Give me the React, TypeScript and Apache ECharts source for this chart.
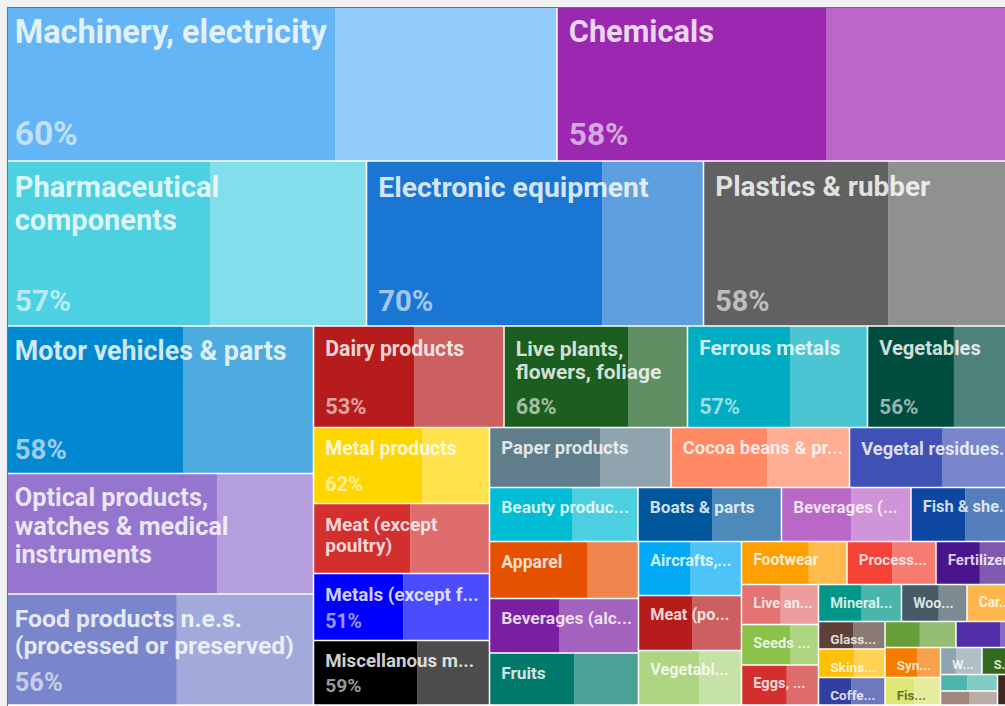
import React, { useEffect, useRef } from "react";
import * as echarts from "echarts";

// Category labels as they appear in the tiles (line breaks and ellipses as shown)
const categories: string[] = [
  "Machinery, electricity",
  "Chemicals",
  "Pharmaceutical\ncomponents",
  "Electronic equipment",
  "Plastics & rubber",
  "Motor vehicles & parts",
  "Optical products,\nwatches & medical\ninstruments",
  "Food products n.e.s.\n(processed or preserved)",
  "Dairy products",
  "Live plants,\nflowers, foliage",
  "Ferrous metals",
  "Vegetables",
  "Metal products",
  "Meat (except\npoultry)",
  "Metals (except f...",
  "Miscellanous m...",
  "Paper products",
  "Cocoa beans & pr...",
  "Vegetal residues...",
  "Beauty produc...",
  "Boats & parts",
  "Beverages (...",
  "Fish & she...",
  "Apparel",
  "Beverages (alc...",
  "Fruits",
  "Aircrafts,...",
  "Meat (po...",
  "Vegetabl...",
  "Footwear",
  "Process...",
  "Fertilizers",
  "Live an...",
  "Seeds ...",
  "Eggs, ...",
  "Mineral...",
  "Woo...",
  "Car...",
  "Glass...",
  "Skins...",
  "Coffe...",
  "",
  "",
  "Syn...",
  "Fis...",
  "W...",
  "S...",
  "",
  "",
  ""
];

// Tile sizes (relative trade values, read from the tile areas)
const values: number[] = [
  86978, 73005, 59978, 55605, 52553, 45799, 37415, 34466,
  19336, 18625, 18270, 15682, 13376, 12320, 11792, 11352,
  10890, 10710, 10350, 8019, 7749, 6993, 5994,
  8493, 8121, 7748, 5562, 5665, 5614,
  4537, 3827, 3698, 3080, 3119, 3080,
  3071, 2424, 2035, 1829, 1895, 1829,
  1846, 1716, 1665, 1526, 1121, 1080, 941, 798, 747
];

// Share (%) shown by the darker part of every tile
const shares: number[] = [
  60, 58, 57, 70, 58, 58, 69, 56,
  53, 68, 57, 56, 62, 55, 51, 59,
  61, 54, 54, 56, 52, 54, 49,
  66, 47, 57, 50, 52, 59,
  64, 51, 51, 51, 64, 59,
  52, 57, 80, 52, 54, 49,
  49, 68, 58, 53, 38, 70, 47, 51, 60
];

// Tile colours (style)
const tileColors: string[] = [
  "#64B5F6", "#9C27B0", "#4DD0E1", "#1976D2", "#616161", "#0288D1", "#9575CD", "#7986CB",
  "#B71C1C", "#1B5E20", "#00ACC1", "#004D40", "#FFD600", "#D32F2F", "#0000FF", "#000000",
  "#607D8B", "#FF8A65", "#3F51B5", "#00BCD4", "#01579B", "#BA68C8", "#0D47A1",
  "#E65100", "#7B1FA2", "#00796B", "#03A9F4", "#B71C1C", "#AED581",
  "#FFA000", "#F44336", "#4A148C", "#E57373", "#8BC34A", "#D32F2F",
  "#009688", "#455A64", "#FFB74D", "#5D4037", "#FFC107", "#303F9F",
  "#689F38", "#512DA8", "#F57C00", "#DCE775", "#90A4AE", "#33691E", "#4DB6AC", "#A1887F", "#3E2723"
];

// Strip plan: each strip fills the top ("row") or the left ("col")
// of the space that is still free, and its items share the strip by value.
const strips: [string, number[]][] = [
  ["row", [0, 1]],
  ["row", [2, 3, 4]],
  ["col", [5, 6, 7]],
  ["row", [8, 9, 10, 11]],
  ["col", [12, 13, 14, 15]],
  ["row", [16, 17, 18]],
  ["row", [19, 20, 21, 22]],
  ["col", [23, 24, 25]],
  ["col", [26, 27, 28]],
  ["row", [29, 30, 31]],
  ["col", [32, 33, 34]],
  ["row", [35, 36, 37]],
  ["col", [38, 39, 40]],
  ["row", [41, 42]],
  ["col", [43, 44]],
  ["row", [45, 46]],
  ["col", [47, 48]],
  ["col", [49]]
];

function layoutCells(): number[][] {
  let remaining = values.reduce((a, b) => a + b, 0);
  let x0 = 0, y0 = 0;
  const x1 = 1, y1 = 1;
  const cells: number[][] = [];
  strips.forEach(([dir, items]) => {
    const sum = items.reduce((a, i) => a + values[i], 0);
    const frac = remaining > 0 ? Math.min(1, sum / remaining) : 1;
    if (dir === "row") {
      const yb = y0 + (y1 - y0) * frac;
      let cx = x0;
      items.forEach((i) => {
        const nx = cx + ((x1 - x0) * values[i]) / sum;
        cells.push([cx, y0, nx, yb, values[i], shares[i], i]);
        cx = nx;
      });
      y0 = yb;
    } else {
      const xb = x0 + (x1 - x0) * frac;
      let cy = y0;
      items.forEach((i) => {
        const ny = cy + ((y1 - y0) * values[i]) / sum;
        cells.push([x0, cy, xb, ny, values[i], shares[i], i]);
        cy = ny;
      });
      x0 = xb;
    }
    remaining -= sum;
  });
  return cells;
}

function luminance(hex: string): number {
  const c = [1, 3, 5].map((k) => parseInt(hex.slice(k, k + 2), 16) / 255);
  const lin = c.map((v) => (v <= 0.03928 ? v / 12.92 : Math.pow((v + 0.055) / 1.055, 2.4)));
  return 0.2126 * lin[0] + 0.7152 * lin[1] + 0.0722 * lin[2];
}

export default function App() {
  const ref = useRef<HTMLDivElement>(null);

  useEffect(() => {
    document.body.style.background = "#f2f2f2";
    document.body.style.overflow = "hidden";
    document.documentElement.style.overflow = "hidden";
    if (!ref.current) return;
    const chart = echarts.init(ref.current, null, { renderer: "svg" });
    const cells = layoutCells();

    const renderItem = (params: any, api: any) => {
      const idx = api.value(6);
      const a = api.coord([api.value(0), api.value(1)]);
      const b = api.coord([api.value(2), api.value(3)]);
      const cx = Math.min(a[0], b[0]);
      const cy = Math.min(a[1], b[1]);
      const cw = Math.abs(b[0] - a[0]);
      const ch = Math.abs(b[1] - a[1]);
      const inset = 0.75;
      const L = cx + inset, T = cy + inset;
      const w = Math.max(cw - 2 * inset, 0), h = Math.max(ch - 2 * inset, 0);
      const share = api.value(5);
      const dw = (w * share) / 100;
      const color = tileColors[idx];
      const light = luminance(color) > 0.72;
      const titleFill = light ? "rgba(0,0,0,0.55)" : "rgba(255,255,255,0.82)";
      const pctFill = light ? "rgba(0,0,0,0.45)" : "rgba(255,255,255,0.6)";
      const s = Math.sqrt(cw * ch);
      const fs = 10 + 0.085 * s - 0.00003 * s * s;
      const name = categories[idx];
      const lines = name ? name.split("\n").length : 0;
      const children: any[] = [
        { type: "rect", shape: { x: L, y: T, width: dw, height: h }, style: { fill: color } },
        { type: "rect", shape: { x: L + dw, y: T, width: w - dw, height: h }, style: { fill: color, opacity: 0.7 } }
      ];
      if (name) {
        children.push({
          type: "text",
          style: {
            text: name,
            x: L + 11,
            y: T + 9.5,
            fill: titleFill,
            fontFamily: "Roboto",
            fontWeight: "bold",
            fontSize: fs,
            lineHeight: fs * 1.12,
            align: "left",
            verticalAlign: "top"
          }
        });
        if (ch >= (lines + 1) * fs * 1.15 + 19) {
          const pfs = fs * 1.03;
          children.push({
            type: "text",
            style: {
              text: share + "%",
              x: L + 11,
              y: T + h - 7,
              fill: pctFill,
              fontFamily: "Roboto",
              fontWeight: "bold",
              fontSize: pfs,
              lineHeight: pfs * 1.2,
              align: "left",
              verticalAlign: "bottom"
            }
          });
        }
      }
      return { type: "group", children };
    };

    chart.setOption({
      animation: false,
      grid: { left: 0, top: 0, right: 0, bottom: 0 },
      xAxis: { type: "value", min: 0, max: 1, show: false },
      yAxis: { type: "value", min: 0, max: 1, inverse: true, show: false },
      series: [
        {
          type: "custom",
          renderItem,
          silent: true,
          data: cells
        }
      ]
    });
    return () => chart.dispose();
  }, []);

  return (
    <div
      style={{
        position: "absolute",
        left: 7,
        top: 7,
        width: 997,
        height: 698,
        borderLeft: "1px solid #1f86cf",
        borderTop: "1px solid #1f86cf",
        overflow: "hidden",
        background: "#ffffff"
      }}
    >
      <div ref={ref} style={{ position: "absolute", left: -5, top: -4, width: 1019, height: 701 }} />
    </div>
  );
}
